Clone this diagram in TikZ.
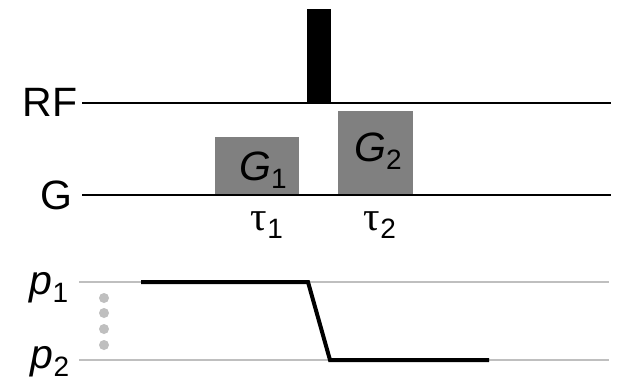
\documentclass[tikz,border=0pt]{standalone}
\usepackage{fontspec}
\setmainfont{Liberation Sans}
\newfontfamily\greekfont{Liberation Serif}
\newcommand{\subnum}[1]{\raisebox{-8pt}{\fontsize{28}{30}\selectfont\normalfont\upshape #1}}
\begin{document}
\begin{tikzpicture}[x=1pt,y=-1pt,
  lbl/.style={inner sep=0pt,font=\fontsize{41}{44}\selectfont},
  gbox/.style={fill=black!50,draw=none},
  base/.style={line width=2.8pt,black},
  level/.style={line width=1.8pt,black!25},
  path/.style={line width=4pt,black}]
\useasboundingbox (0,0) rectangle (617,380);
\fill[white] (0,0) rectangle (617,380);
\fill[gbox] (215,137) rectangle (299,195);
\fill[gbox] (338,111) rectangle (413,195);
\fill[black] (307,9) rectangle (331,103);
\coordinate (rfa) at (82,103); \coordinate (rfb) at (611,103);
\coordinate (ga) at (82,195); \coordinate (gb) at (611,195);
\coordinate (p1a) at (79,282); \coordinate (p1b) at (609,282);
\coordinate (p2a) at (79,360); \coordinate (p2b) at (609,360);
\draw[base] (rfa) -- (rfb);
\draw[base] (ga) -- (gb);
\draw[level] (p1a) -- (p1b);
\draw[level] (p2a) -- (p2b);
\coordinate (s1) at (141,282); \coordinate (s2) at (308,282); \coordinate (s3) at (330,360); \coordinate (s4) at (489,360);
\draw[path] (s1) -- (s2) -- (s3) -- (s4);
\node[lbl] (rf) at (50,102) {RF};
\node[lbl] (g) at (56,195) {G};
\node[lbl] (g1) at (263,170) {\textit{G}\subnum{1}};
\node[lbl] (g2) at (378,151) {\textit{G}\subnum{2}};
\node[lbl] (t1) at (267,225) {\greekfont τ\subnum{1}};
\node[lbl] (t2) at (380,225) {\greekfont τ\subnum{2}};
\node[lbl] (p1) at (49,288) {\textit{p}\subnum{1}};
\node[lbl] (p2) at (50,362) {\textit{p}\subnum{2}};
\foreach \y in {298,313,329,345} \fill[black!25] (104,\y) circle (5);
\end{tikzpicture}
\end{document}
